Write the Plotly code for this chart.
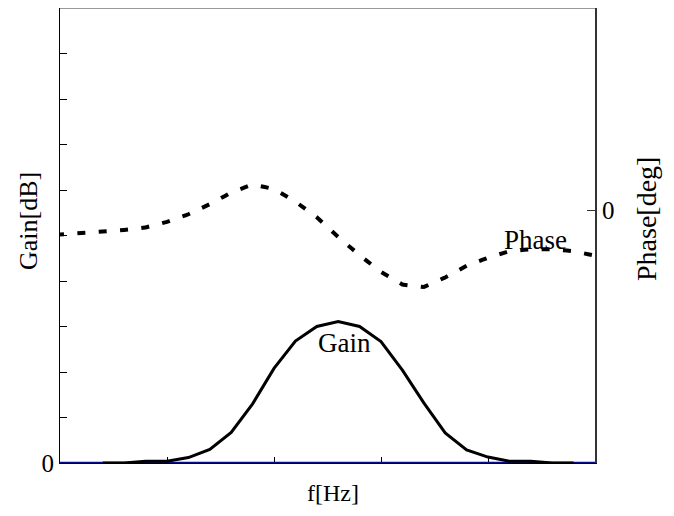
import plotly.graph_objects as go

# ---- data ----
freq_idx = list(range(26))
gain_db = [0, 0, 0, 0, 0.04, 0.04, 0.12, 0.30, 0.67, 1.30, 2.08, 2.68, 3.00, 3.11,
           3.00, 2.67, 2.04, 1.32, 0.66, 0.29, 0.13, 0.04, 0.04, 0, 0, 0]
phase_deg = [-4.8, -4.5, -4.3, -3.9, -3.4, -2.3, -0.8, 1.2, 3.5, 5.1, 4.2, 1.7, -1.4,
             -5.3, -8.9, -12.2, -14.7, -15.2, -13.3, -11.0, -9.4, -8.1, -7.7, -7.7, -8.1, -9.0]
baseline = [0] * 26
x_ticks = [5, 10, 15, 20]
gain_ticks = list(range(11))
gain_ticklabels = ["0"] + [""] * 10
phase_ticks = [0]
phase_ticklabels = ["0"]

FONT = "Liberation Serif, Times New Roman, serif"

fig = go.Figure()
fig.add_trace(go.Scatter(x=freq_idx, y=baseline, mode="lines",
                         line=dict(color="#0a0a8c", width=2.6), showlegend=False))
fig.add_trace(go.Scatter(x=freq_idx[2:25], y=gain_db[2:25], mode="lines",
                         line=dict(color="black", width=3), showlegend=False))
fig.add_trace(go.Scatter(x=freq_idx, y=phase_deg, mode="lines", yaxis="y2",
                         line=dict(color="black", width=4, dash="4px,13.4px,4px,0px"),
                         showlegend=False))

# page offset of 8px (browser body margin) -> figure is 666x508
fig.update_layout(
    width=666, height=508,
    margin=dict(l=52, r=79, t=0, b=53),
    paper_bgcolor="white", plot_bgcolor="white",
    font=dict(family=FONT, size=24, color="black"),
    xaxis=dict(range=[0, 25], tickvals=x_ticks, ticktext=[""] * 4, ticks="inside",
               ticklen=6, tickcolor="black", showline=True, linecolor="black",
               linewidth=1, showgrid=False, zeroline=False, layer="below traces",
               fixedrange=True),
    yaxis=dict(range=[0, 10], tickvals=gain_ticks, ticktext=gain_ticklabels,
               ticks="inside", ticklen=7, tickcolor="black", showline=True,
               linecolor="black", linewidth=1, showgrid=False, zeroline=False,
               tickfont=dict(size=25), layer="below traces"),
    yaxis2=dict(range=[-50, 40], overlaying="y", side="right", tickvals=phase_ticks,
                ticktext=phase_ticklabels, ticks="inside", ticklen=8, tickcolor="#333",
                showline=True, linecolor="#333", linewidth=2, showgrid=False,
                zeroline=False, tickfont=dict(size=25), layer="below traces"),
    shapes=[dict(type="line", xref="paper", yref="paper", x0=0, x1=1, y0=1, y1=1,
                 line=dict(color="#999", width=2))],
)
W, H = 595 - 60, 463 - 8
common = dict(showarrow=False, xanchor="center", yanchor="middle")
fig.add_annotation(text="Gain", x=13.3, y=2.64, xref="x", yref="y",
                   font=dict(size=27), **common)
fig.add_annotation(text="Phase", x=22.2, y=4.9, xref="x", yref="y",
                   font=dict(size=27), **common)
fig.add_annotation(text="f[Hz]", x=(333 - 60) / W, y=(463 - 493) / H, xref="paper",
                   yref="paper", font=dict(size=24), **common)
fig.add_annotation(text="Gain[dB]", x=(28 - 60) / W, y=(463 - 221) / H, xref="paper",
                   yref="paper", textangle=-90, font=dict(size=26), **common)
fig.add_annotation(text="Phase[deg]", x=(646 - 60) / W, y=(463 - 219) / H, xref="paper",
                   yref="paper", textangle=-90, font=dict(size=28), **common)

fig.write_html("out.html")
